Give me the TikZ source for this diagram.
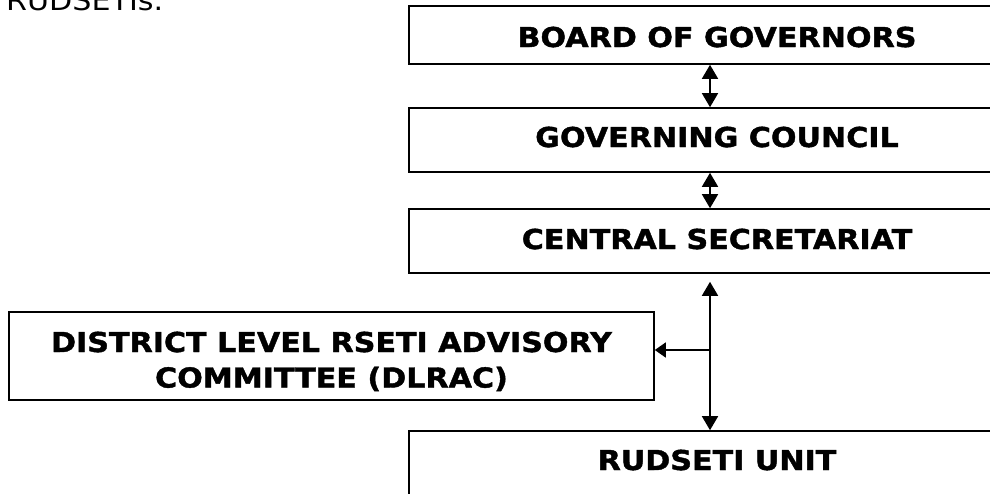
\documentclass[tikz,border=0pt]{standalone}
\usepackage{fontspec}
\setmainfont[FakeStretch=1.1, BoldFeatures={FakeBold=1.5}]{DejaVu Sans}
\usetikzlibrary{arrows.meta}
\tikzset{
  orgbox/.style={draw=black, line width=1.6pt, fill=white, inner sep=0pt},
  boxtext/.style={font=\fontsize{27.4pt}{36pt}\selectfont\bfseries, inner sep=0pt, text height=20pt, text depth=0pt},
  link/.style={line width=1.6pt, {Triangle[width=16pt,length=14pt]}-{Triangle[width=16pt,length=14pt]}},
  sidelink/.style={line width=1.6pt, -{Triangle[width=15pt,length=11pt]}}
}
\begin{document}
\begin{tikzpicture}[x=1pt,y=-1pt]
\useasboundingbox (0,0) rectangle (990,493);
\clip (0,0) rectangle (990,493);
\node[anchor=base west, inner sep=0pt, font=\fontsize{27.4pt}{33pt}\selectfont] (intro) at (6,10) {RUDSETIs.};
% main boxes
\node[orgbox, minimum width=616pt, minimum height=58pt] (bog) at (717,35) {};
\node[boxtext] (bogt) at (717,37) {BOARD OF GOVERNORS};
\node[orgbox, minimum width=616pt, minimum height=64pt] (gc) at (717,140) {};
\node[boxtext] (gct) at (717,137) {GOVERNING COUNCIL};
\node[orgbox, minimum width=616pt, minimum height=64pt] (cs) at (717,241) {};
\node[boxtext] (cst) at (717,239) {CENTRAL SECRETARIAT};
\node[orgbox, minimum width=616pt, minimum height=74pt] (ru) at (717,468) {};
\node[boxtext] (rut) at (717,460) {RUDSETI UNIT};
% side box
\node[orgbox, minimum width=645pt, minimum height=88pt] (dl) at (331.5,356) {};
\node[boxtext] (dlt1) at (331.5,342) {DISTRICT LEVEL RSETI ADVISORY};
\node[boxtext] (dlt2) at (331.5,377.5) {COMMITTEE (DLRAC)};
% connectors
\coordinate (ax) at (710,0);
\coordinate (jn) at (710,350);
\draw[link] (bog.south -| ax) -- (gc.north -| ax);
\draw[link] (gc.south -| ax) -- (cs.north -| ax);
\draw[link, shorten <=8pt] (cs.south -| ax) -- (ru.north -| ax);
\draw[sidelink] (jn) -- (jn -| dl.east);
\end{tikzpicture}
\end{document}
